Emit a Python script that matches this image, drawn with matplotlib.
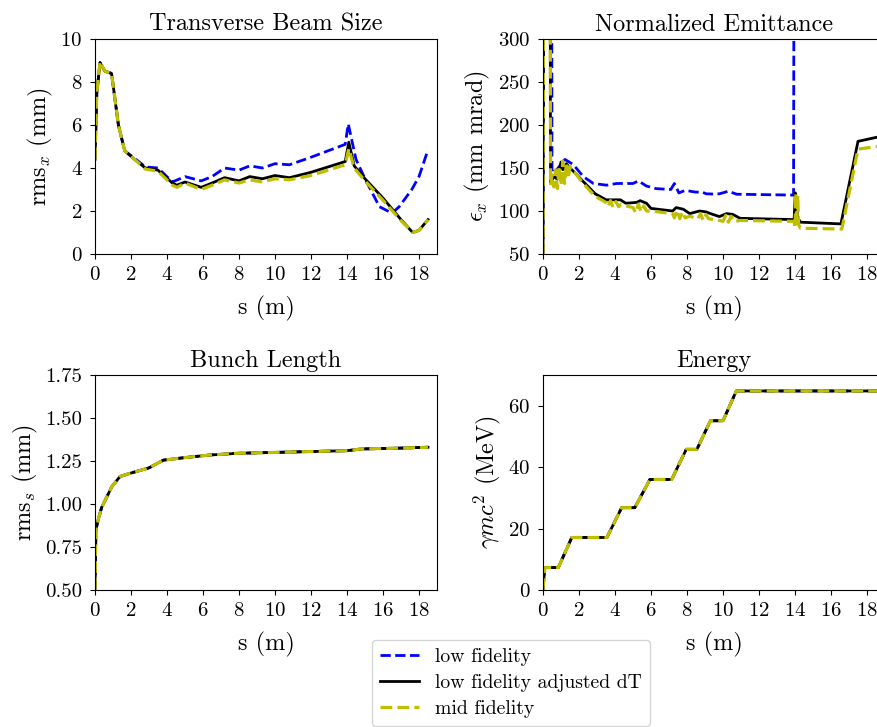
## 0.1
import numpy as np
import matplotlib as mpl, matplotlib.pyplot as plt

## 0.2 basic settings
mpl.rcParams['font.family'] = ['cmr10', 'DejaVu Serif']
mpl.rcParams['mathtext.fontset'] = 'cm'
mpl.rcParams['axes.formatter.use_mathtext'] = True
mpl.rcParams['axes.unicode_minus'] = False
tick_fs, label_fs, title_fs, legend_fs = 15, 17.5, 17.5, 14.2

## 0.3 data
# transverse beam size
s_rms   = [0, 0.1, 0.28, 0.55, 0.92, 1.3, 1.65, 2.2, 2.8, 3.5, 4.3, 4.55, 5.0, 5.9, 6.5, 7.2, 8.0, 8.6, 9.3, 10.0, 10.8, 12.0, 13.9, 14.1, 14.4, 15.0, 16.0, 17.0, 17.65, 18.0, 18.5]
rms_k   = [4.4, 7.5, 8.9, 8.5, 8.4, 6.0, 4.8, 4.4, 4.0, 3.9, 3.3, 3.2, 3.35, 3.1, 3.3, 3.55, 3.4, 3.6, 3.5, 3.65, 3.55, 3.8, 4.3, 5.2, 4.1, 3.5, 2.6, 1.6, 1.0, 1.1, 1.6]
rms_y   = [4.4, 7.5, 8.95, 8.5, 8.4, 6.0, 4.8, 4.4, 3.95, 3.85, 3.2, 3.1, 3.3, 3.0, 3.2, 3.45, 3.3, 3.45, 3.35, 3.5, 3.45, 3.65, 4.15, 4.9, 4.0, 3.4, 2.5, 1.55, 1.0, 1.1, 1.6]
s_rms_b = [0, 0.1, 0.28, 0.55, 0.92, 1.3, 1.65, 2.2, 2.8, 3.5, 4.3, 5.0, 5.9, 6.5, 7.2, 8.0, 8.6, 9.3, 10.0, 10.8, 12.0, 13.9, 14.07, 14.5, 15.0, 15.8, 16.5, 16.9, 17.6, 18.0, 18.5]
rms_b   = [4.4, 7.5, 8.9, 8.5, 8.4, 6.0, 4.8, 4.45, 4.05, 4.0, 3.35, 3.6, 3.4, 3.6, 4.0, 3.9, 4.1, 4.0, 4.2, 4.15, 4.5, 5.1, 6.05, 4.4, 3.5, 2.2, 1.9, 2.2, 3.0, 3.6, 4.85]

# normalized emittance
s_emit_k = [0, 0.06, 0.38, 0.42, 0.6, 0.8, 1.0, 1.1, 1.3, 1.5, 1.7, 2.2, 2.9, 3.5, 4.3, 4.6, 5.2, 5.4, 5.75, 6.0, 7.2, 7.4, 7.8, 8.15, 8.7, 9.05, 9.3, 9.8, 10.2, 10.55, 10.95, 13.95, 14.02, 14.1, 14.18, 14.3, 16.55, 17.5, 18.6]
emit_k   = [50, 600, 600, 133, 140, 137, 157, 148, 155, 150, 146, 135, 120, 113, 113, 109, 110, 112, 109, 103, 100, 104, 102, 97, 100, 99, 97, 93.5, 97, 96, 91.5, 90, 121, 100, 91, 87, 85, 181, 186]
s_emit_b = [0, 0.05, 0.47, 0.5, 0.76, 1.22, 1.68, 2.24, 2.8, 3.54, 4.1, 5.0, 5.3, 5.75, 6.3, 7.1, 7.3, 7.55, 7.9, 8.46, 8.83, 9.07, 9.46, 9.8, 10.3, 10.76, 13.92, 13.96, 18.6]
emit_b   = [50, 600, 600, 144, 148, 160, 154, 140, 132, 130, 132, 132, 135, 129, 126, 125, 132, 121, 124, 122, 122, 120, 119.7, 120, 123, 119.5, 118.5, 600, 600]
s_emit_y = [0, 0.06, 0.38, 0.42, 0.5, 0.6, 0.7, 0.8, 0.9, 1.0, 1.1, 1.2, 1.3, 1.4, 1.5, 1.6, 1.75, 2.2, 2.9, 3.5, 3.6, 3.75, 3.9, 4.05, 4.2, 4.35, 4.6, 5.0, 5.15, 5.3, 5.45, 5.6, 5.75, 6.0, 7.2, 7.3, 7.45, 7.6, 7.75, 7.9, 8.15, 8.6, 8.75, 8.9, 9.05, 9.2, 9.8, 10.0, 10.15, 10.3, 10.45, 10.6, 10.95, 13.95, 14.0, 14.05, 14.1, 14.15, 14.2, 14.3, 16.6, 17.5, 18.6]
emit_y   = [50, 600, 600, 130, 142, 128, 148, 126, 152, 130, 158, 132, 156, 138, 152, 146, 145, 133, 117, 110, 105, 112, 104, 111, 105, 108, 106, 104, 98, 108, 99, 106, 100, 100, 97, 92, 101, 91, 99, 92, 94, 91, 97, 89, 96, 91, 89, 88, 95, 87, 94, 88, 89, 88, 80, 121, 82, 118, 84, 80, 79, 172, 175]

# bunch length (all three runs coincide)
s_len = [0, 0.05, 0.18, 0.37, 0.93, 1.39, 2.0, 3.0, 3.8, 5.0, 6.4, 8.0, 10.0, 12.0, 14.0, 14.8, 17.0, 18.5]
len_k = [0.5, 0.85, 0.91, 0.98, 1.10, 1.16, 1.18, 1.21, 1.255, 1.27, 1.285, 1.295, 1.30, 1.305, 1.31, 1.32, 1.325, 1.33]

# energy (all three runs coincide)
s_en = [0, 0.1, 0.85, 1.6, 3.55, 4.37, 5.1, 5.94, 7.15, 7.96, 8.55, 9.3, 10.0, 10.74, 18.6]
en   = [0, 7.3, 7.3, 17.1, 17.1, 26.8, 26.8, 36.0, 36.0, 45.8, 45.8, 55.1, 55.1, 64.8, 64.8]

## 1. create figure and axes (pixel boxes of the reference, 878x727)
W, H = 878, 727
fig = plt.figure(figsize=(W/100, H/100), dpi=100)
def box(x0, y0, x1, y1):
    return [x0/W, 1-y1/H, (x1-x0)/W, (y1-y0)/H]
ax1 = fig.add_axes(box(95, 39, 437, 254))
ax2 = fig.add_axes(box(543, 39, 885, 254))
ax3 = fig.add_axes(box(95, 375, 437, 590))
ax4 = fig.add_axes(box(543, 375, 885, 590))

## 2. plot lines
lw = 2.0
def draw(ax, sb, yb, sk, yk, sy, yy):
    ax.plot(sb, yb, 'b--', lw=lw, label='low fidelity')
    ax.plot(sk, yk, 'k-', lw=lw, label='low fidelity adjusted dT')
    ax.plot(sy, yy, 'y--', lw=lw+0.3, label='mid fidelity')

draw(ax1, s_rms_b, rms_b, s_rms, rms_k, s_rms, rms_y)
draw(ax2, s_emit_b, emit_b, s_emit_k, emit_k, s_emit_y, emit_y)
draw(ax3, s_len, len_k, s_len, len_k, s_len, len_k)
draw(ax4, s_en, en, s_en, en, s_en, en)

## 3. axes settings
ax1.set_ylim(0, 10)
ax2.set_ylim(50, 300)
ax3.set_ylim(0.5, 1.75)
ax3.set_yticks([0.5, 0.75, 1.0, 1.25, 1.5, 1.75])
ax3.yaxis.set_major_formatter(mpl.ticker.FormatStrFormatter('%.2f'))
ax4.set_ylim(0, 70)
ax4.set_yticks([0, 20, 40, 60])

titles = ['Transverse Beam Size', 'Normalized Emittance', 'Bunch Length', 'Energy']
ylabels = [r'rms$_x$ (mm)', r'$\epsilon_x$ (mm mrad)', r'rms$_s$ (mm)', r'$\gamma mc^2$ (MeV)']
for ax, t, yl in zip([ax1, ax2, ax3, ax4], titles, ylabels):
    ax.set_xlim(0, 19)
    ax.set_xticks(np.arange(0, 19, 2))
    ax.set_title(t, fontsize=title_fs)
    ax.set_xlabel('s (m)', fontsize=label_fs, labelpad=8)
    ax.set_ylabel(yl, fontsize=label_fs)
    ax.tick_params(labelsize=tick_fs, pad=5.5)

## 4. legend
h, l = ax1.get_legend_handles_labels()
fig.legend(h, l, loc='upper left', bbox_to_anchor=(372/W, 1-640/H), borderaxespad=0,
           labelspacing=0.4, fontsize=legend_fs)

## 5. save and close
plt.savefig('out.png', dpi=100)
plt.close(fig), print("DONE.")
